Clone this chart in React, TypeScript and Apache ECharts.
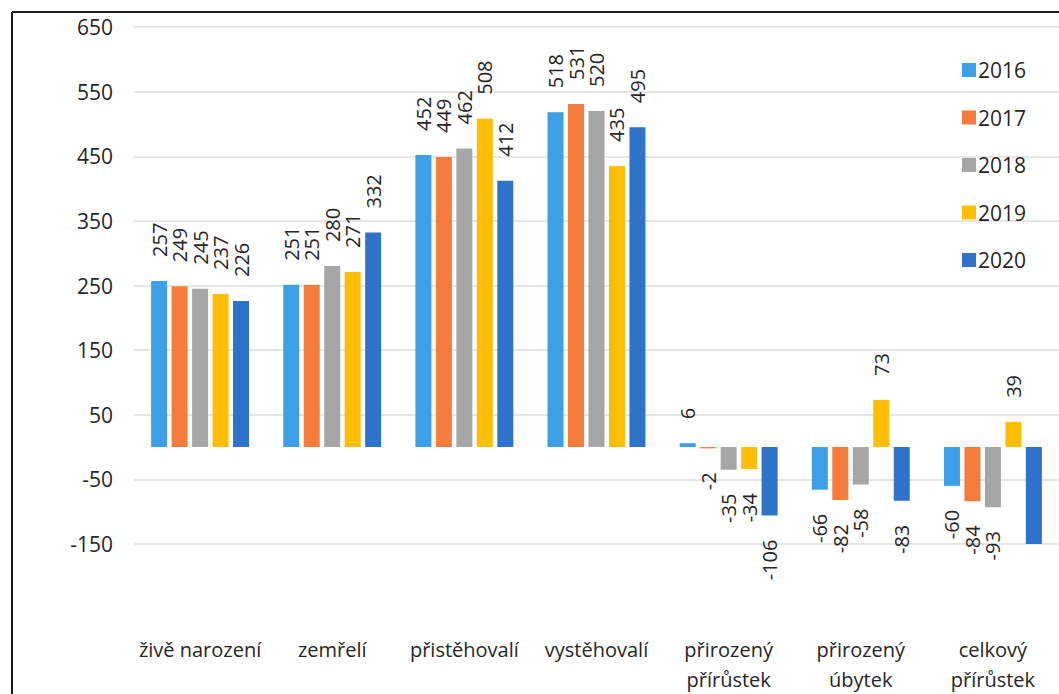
import React, { useEffect, useRef } from "react";
import * as echarts from "echarts";

const categories = [
  "živě narození",
  "zemřelí",
  "přistěhovalí",
  "vystěhovalí",
  "přirozený\npřírůstek",
  "přirozený\núbytek",
  "celkový\npřírůstek",
];
const years = ["2016", "2017", "2018", "2019", "2020"];
const v2016 = [257, 251, 452, 518, 6, -66, -60];
const v2017 = [249, 251, 449, 531, -2, -82, -84];
const v2018 = [245, 280, 462, 520, -35, -58, -93];
const v2019 = [237, 271, 508, 435, -34, 73, 39];
const v2020 = [226, 332, 412, 495, -106, -83, -189];
const seriesValues = [v2016, v2017, v2018, v2019, v2020];
const colors = ["#3d9fe6", "#f57c3c", "#a6a6a6", "#ffbf00", "#2f72c9"];

const yMin = -150;
const yMax = 650;
const yInterval = 100;

const FONT = "'Open Sans', 'Noto Sans', sans-serif";

export default function App() {
  const ref = useRef<HTMLDivElement>(null);
  useEffect(() => {
    if (!ref.current) return;
    const chart = echarts.init(ref.current, null, { renderer: "svg" });
    const series = seriesValues.map((vals, si) => ({
      name: years[si],
      type: "bar",
      barWidth: 16,
      barGap: "28%",
      clip: true,
      itemStyle: { color: colors[si] },
      data: vals.map((v) => ({
        value: v,
        label:
          v < yMin
            ? { show: false }
            : v >= 0
            ? { position: "top", align: "left", distance: 24 }
            : { position: "bottom", align: "right", distance: 24 },
      })),
      label: {
        show: true,
        rotate: 90,
        verticalAlign: "middle",
        fontSize: 20,
        fontFamily: FONT,
        color: "#262626",
      },
    }));
    chart.setOption({
      animation: false,
      backgroundColor: "#ffffff",
      grid: { left: 134, top: 27, width: 940, height: 523, containLabel: false },
      legend: {
        orient: "vertical",
        left: 957,
        top: 51,
        itemWidth: 14,
        itemHeight: 14,
        itemGap: 19.5,
        icon: "rect",
        textStyle: { fontSize: 21, lineHeight: 28, fontFamily: FONT, color: "#262626", padding: [0, 0, 0, -3] },
        data: years,
      },
      xAxis: {
        type: "category",
        data: categories,
        axisLine: { show: false },
        axisTick: { show: false },
        axisLabel: {
          margin: 90,
          fontSize: 20,
          lineHeight: 30,
          fontFamily: FONT,
          color: "#262626",
          interval: 0,
        },
      },
      yAxis: {
        type: "value",
        min: yMin,
        max: yMax,
        interval: yInterval,
        axisLine: { show: false },
        axisTick: { show: false },
        splitLine: { lineStyle: { color: "#dedede", width: 1.5 } },
        axisLabel: {
          margin: 21,
          fontSize: 21,
          fontFamily: FONT,
          color: "#262626",
        },
      },
      graphic: [
        {
          type: "line",
          shape: { x1: 12, y1: 12, x2: 1059, y2: 12 },
          style: { stroke: "#1a1a1a", lineWidth: 2 },
        },
        {
          type: "line",
          shape: { x1: 12, y1: 12, x2: 12, y2: 694 },
          style: { stroke: "#1a1a1a", lineWidth: 2 },
        },
      ],
      series,
    });
    return () => chart.dispose();
  }, []);
  return (
    <div
      ref={ref}
      style={{ position: "fixed", left: 0, top: 0, width: 1059, height: 694, background: "#fff" }}
    />
  );
}
